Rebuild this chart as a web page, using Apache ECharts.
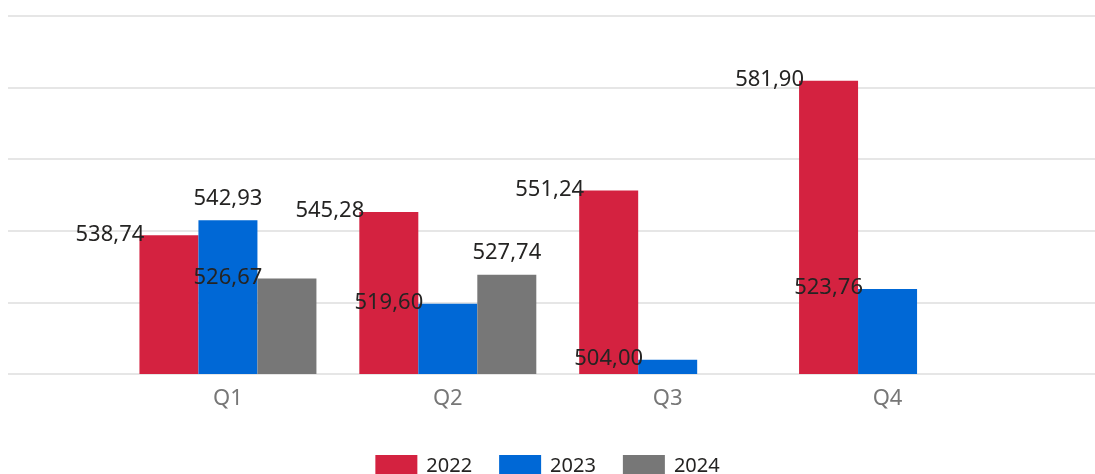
<!DOCTYPE html>
<html>
<head>
<meta charset="utf-8">
<title>Quarterly values</title>
<script src="https://cdn.jsdelivr.net/npm/echarts@6/dist/echarts.min.js"></script>
<style>
  html, body { margin: 0; padding: 0; background: #fff; }
  #chart { width: 1095px; height: 474px; }
</style>
</head>
<body>
<div id="chart"></div>
<script>
  // data
  var quarters = ['Q1', 'Q2', 'Q3', 'Q4'];
  var years = ['2022', '2023', '2024'];
  var values2022 = [538.74, 545.28, 551.24, 581.90];
  var values2023 = [542.93, 519.60, 504.00, 523.76];
  var values2024 = [526.67, 527.74, null, null];
  var yMin = 500, yMax = 600, yStep = 20;

  // which labels sit above their bar (the rest are pushed to the left)
  var labelAbove = [
    [false, false, false, false],
    [true, false, false, false],
    [false, true, false, false]
  ];
  var colors = ['#D42240', '#0068D6', '#777777'];
  var font = '"Noto Sans", "Open Sans", sans-serif';

  function fmt(v) {
    return v.toFixed(2).replace('.', ',');
  }

  function makeSeries(idx, vals) {
    return {
      name: years[idx],
      type: 'bar',
      xAxisIndex: 1,
      yAxisIndex: 1,
      barGap: 0,
      barCategoryGap: '19.5%',
      itemStyle: { color: colors[idx] },
      label: {
        show: true,
        fontFamily: font,
        fontSize: 22,
        color: '#252423',
        align: 'center',
        verticalAlign: 'middle',
        formatter: function (p) { return fmt(p.value); }
      },
      data: vals.map(function (v, i) {
        return {
          value: v,
          label: { position: labelAbove[idx][i] ? ['50%', -22] : [-29.5, -1] }
        };
      })
    };
  }

  var chart = echarts.init(document.getElementById('chart'));
  chart.setOption({
    animation: false,
    textStyle: { fontFamily: font },
    grid: [
      { left: 8, right: 0, top: 16, bottom: 100 },
      { left: 118, right: 97.5, top: 16, bottom: 100 }
    ],
    legend: {
      data: years,
      left: 'center',
      top: 450,
      icon: 'rect',
      itemWidth: 42,
      itemHeight: 22,
      itemGap: 27,
      textStyle: { fontFamily: font, fontSize: 20, color: '#252423', padding: [0, 0, 0, 4] }
    },
    xAxis: [
      { type: 'value', gridIndex: 0, min: 0, max: 1, show: false },
      {
        type: 'category',
        gridIndex: 1,
        data: quarters,
        axisLine: { show: false },
        axisTick: { show: false },
        axisLabel: { fontFamily: font, fontSize: 22, color: '#777', margin: 14 }
      }
    ],
    yAxis: [
      {
        type: 'value', gridIndex: 0, min: yMin, max: yMax, interval: yStep,
        axisLabel: { show: false }, axisLine: { show: false }, axisTick: { show: false },
        splitLine: { lineStyle: { color: '#dedede', width: 1.5 } }
      },
      {
        type: 'value', gridIndex: 1, min: yMin, max: yMax, interval: yStep,
        axisLabel: { show: false }, axisLine: { show: false }, axisTick: { show: false },
        splitLine: { show: false }
      }
    ],
    series: [
      makeSeries(0, values2022),
      makeSeries(1, values2023),
      makeSeries(2, values2024)
    ]
  });
</script>
</body>
</html>
